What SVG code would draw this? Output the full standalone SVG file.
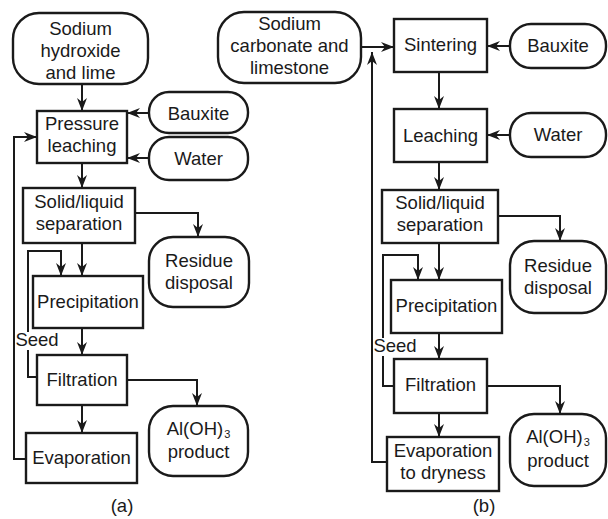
<svg xmlns="http://www.w3.org/2000/svg" width="608" height="519" viewBox="0 0 608 519">
<defs>
<style>
.box{fill:#fff;stroke:#1a1a1a;stroke-width:2.4}
.t{font-family:"Liberation Sans",Arial,sans-serif;font-size:18.5px;fill:#1a1a1a;text-anchor:middle}
.c{fill:none;stroke:#1a1a1a;stroke-width:2;marker-end:url(#ah)}
</style>
<marker id="ah" viewBox="0 0 13 10" refX="13" refY="5" markerWidth="13" markerHeight="10" markerUnits="userSpaceOnUse" orient="auto">
<path d="M0,0 L13,5 L0,10 L4,5 z" fill="#1a1a1a"/>
</marker>
</defs>
<rect width="608" height="519" fill="#fff"/>
<g id="connectors">
<!-- panel a -->
<path class="c" d="M82,84 V111"/>
<path class="c" d="M149,113 H127"/>
<path class="c" d="M149,158 H127"/>
<path class="c" d="M82,163 V188"/>
<path class="c" d="M134,213 H198 V237"/>
<path class="c" d="M82,243 V276"/>
<path class="c" d="M37,377 H28 V251 H61 V276"/>
<path class="c" d="M82,328 V355"/>
<path class="c" d="M127,380 H197 V406"/>
<path class="c" d="M82,405 V433"/>
<path class="c" d="M26,459 H14 V137 H37"/>
<!-- panel b -->
<path class="c" d="M362,47 H394"/>
<path class="c" d="M510,46 H487"/>
<path class="c" d="M439,72 V109"/>
<path class="c" d="M510,135 H487"/>
<path class="c" d="M439,162 V190"/>
<path class="c" d="M499,216 H560 V241"/>
<path class="c" d="M439,243 V280"/>
<path class="c" d="M394,386 H383 V255 H418 V280"/>
<path class="c" d="M439,333 V359"/>
<path class="c" d="M487,386 H560 V414"/>
<path class="c" d="M439,413 V437"/>
<path class="c" d="M387,462 H372 V52"/>
</g>
<g id="seed-a">
<rect x="16" y="332" width="44" height="18" fill="#fff"/>
<text class="t" x="37" y="346">Seed</text>
</g>
<g id="seed-b">
<rect x="373" y="338" width="45" height="18" fill="#fff"/>
<text class="t" x="395" y="352">Seed</text>
</g>
<!-- panel a nodes -->
<g id="a-naoh">
<rect class="box" x="13" y="13" width="135" height="71" rx="26"/>
<text class="t" x="80.5" y="35">Sodium</text>
<text class="t" x="80.5" y="57">hydroxide</text>
<text class="t" x="80.5" y="79">and lime</text>
</g>
<g id="a-pressure">
<rect class="box" x="37" y="111" width="90" height="52"/>
<text class="t" x="82" y="130">Pressure</text>
<text class="t" x="82" y="152">leaching</text>
</g>
<g id="a-bauxite">
<rect class="box" x="149" y="92" width="99" height="41" rx="20"/>
<text class="t" x="198.5" y="120">Bauxite</text>
</g>
<g id="a-water">
<rect class="box" x="149" y="137" width="99" height="43" rx="20"/>
<text class="t" x="198.5" y="165">Water</text>
</g>
<g id="a-solid">
<rect class="box" x="23" y="188" width="112" height="55"/>
<text class="t" x="79" y="208">Solid/liquid</text>
<text class="t" x="79" y="230">separation</text>
</g>
<g id="a-residue">
<rect class="box" x="149" y="237" width="100" height="70" rx="24"/>
<text class="t" x="199" y="267">Residue</text>
<text class="t" x="199" y="289">disposal</text>
</g>
<g id="a-precip">
<rect class="box" x="33" y="276" width="110" height="52"/>
<text class="t" x="88" y="308">Precipitation</text>
</g>
<g id="a-filt">
<rect class="box" x="37" y="355" width="90" height="50"/>
<text class="t" x="82" y="386">Filtration</text>
</g>
<g id="a-aloh">
<rect class="box" x="149" y="406" width="99" height="70" rx="24"/>
<text class="t" x="198.5" y="435">Al(OH)<tspan font-size="11" dx="1" dy="3">3</tspan></text>
<text class="t" x="198.5" y="458">product</text>
</g>
<g id="a-evap">
<rect class="box" x="26" y="433" width="111" height="50"/>
<text class="t" x="81.5" y="464">Evaporation</text>
</g>
<text class="t" x="122" y="512">(a)</text>
<!-- panel b nodes -->
<g id="b-na2co3">
<rect class="box" x="218" y="12" width="143" height="71" rx="26"/>
<text class="t" x="289.5" y="30">Sodium</text>
<text class="t" x="289.5" y="52">carbonate and</text>
<text class="t" x="289.5" y="74">limestone</text>
</g>
<g id="b-sinter">
<rect class="box" x="394" y="19" width="93" height="53"/>
<text class="t" x="440.5" y="51">Sintering</text>
</g>
<g id="b-bauxite">
<rect class="box" x="510" y="24" width="96" height="44" rx="21"/>
<text class="t" x="558" y="52">Bauxite</text>
</g>
<g id="b-leach">
<rect class="box" x="394" y="109" width="93" height="53"/>
<text class="t" x="440.5" y="142">Leaching</text>
</g>
<g id="b-water">
<rect class="box" x="510" y="113" width="96" height="44" rx="21"/>
<text class="t" x="558" y="141">Water</text>
</g>
<g id="b-solid">
<rect class="box" x="382" y="190" width="116" height="53"/>
<text class="t" x="440" y="209">Solid/liquid</text>
<text class="t" x="440" y="231">separation</text>
</g>
<g id="b-residue">
<rect class="box" x="510" y="241" width="96" height="72" rx="24"/>
<text class="t" x="558" y="272">Residue</text>
<text class="t" x="558" y="294">disposal</text>
</g>
<g id="b-precip">
<rect class="box" x="391" y="280" width="111" height="53"/>
<text class="t" x="446.5" y="312">Precipitation</text>
</g>
<g id="b-filt">
<rect class="box" x="394" y="359" width="93" height="54"/>
<text class="t" x="440.5" y="391">Filtration</text>
</g>
<g id="b-aloh">
<rect class="box" x="510" y="414" width="96" height="72" rx="24"/>
<text class="t" x="558" y="443">Al(OH)<tspan font-size="11" dx="1" dy="3">3</tspan></text>
<text class="t" x="558" y="467">product</text>
</g>
<g id="b-evap">
<rect class="box" x="387" y="437" width="112" height="54"/>
<text class="t" x="443" y="457">Evaporation</text>
<text class="t" x="443" y="479">to dryness</text>
</g>
<text class="t" x="484" y="512">(b)</text>
</svg>
